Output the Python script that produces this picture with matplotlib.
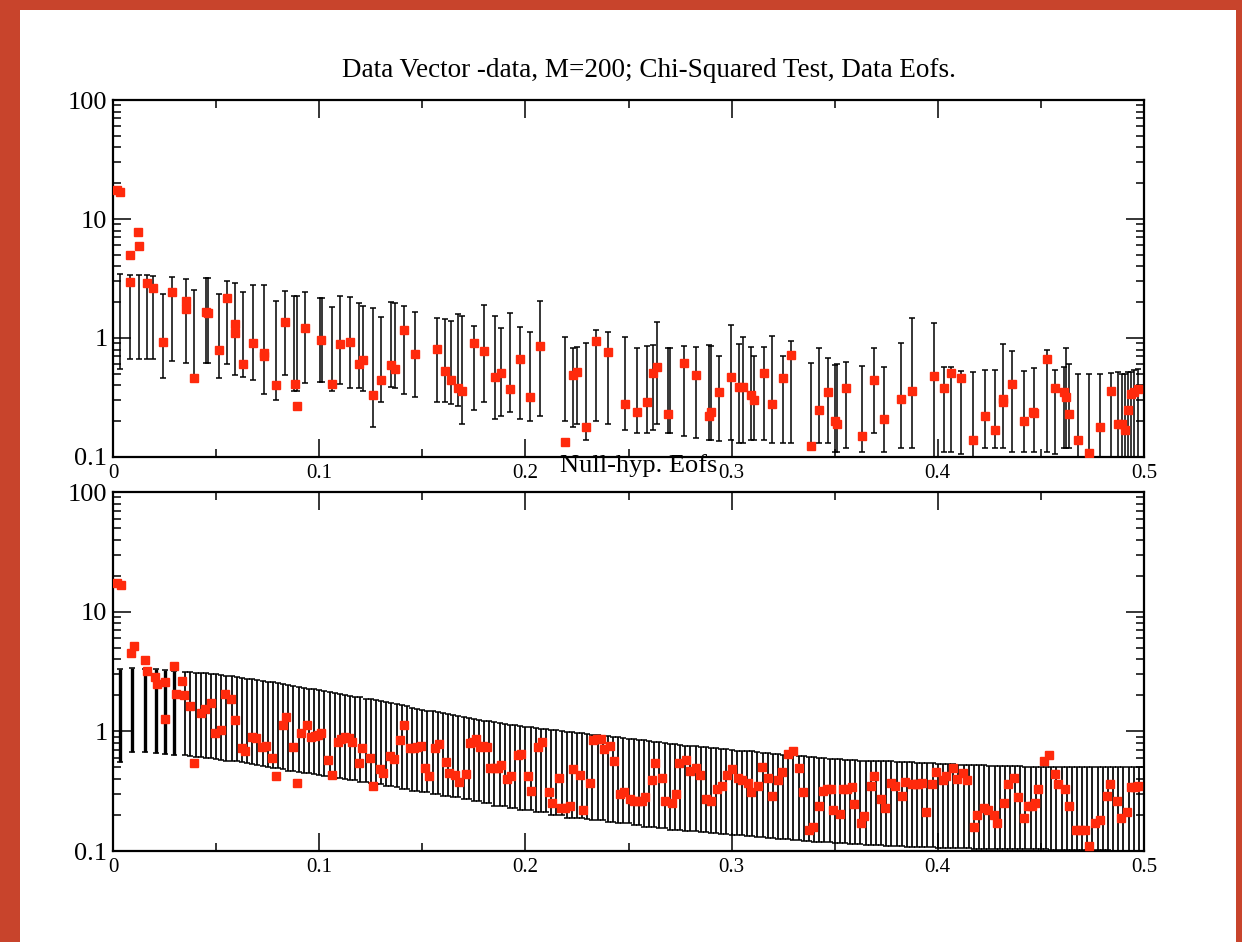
import numpy as np
import matplotlib
matplotlib.use("Agg")
import matplotlib.pyplot as plt
from matplotlib.ticker import FixedLocator, FixedFormatter, MultipleLocator, LogLocator, NullFormatter
from matplotlib.patches import Rectangle

# ---- top panel: data EOFs (points + per-point error bars) ----
data_x = [0.0021, 0.0034, 0.0082, 0.0084, 0.0123, 0.0125, 0.0165, 0.0194, 0.0243, 0.0284,
          0.0353, 0.0353, 0.0393, 0.0453, 0.0462, 0.0514, 0.0553, 0.0590, 0.0590, 0.0630,
          0.0680, 0.0730, 0.0730, 0.0792, 0.0833, 0.0881, 0.0891, 0.0933, 0.1007, 0.1062,
          0.1102, 0.1151, 0.1193, 0.1212, 0.1261, 0.1301, 0.1350, 0.1369, 0.1410, 0.1466,
          0.1571, 0.1612, 0.1641, 0.1673, 0.1693, 0.1751, 0.1799, 0.1851, 0.1880, 0.1924,
          0.1972, 0.2021, 0.2072, 0.2190, 0.2231, 0.2250, 0.2292, 0.2341, 0.2400, 0.2485,
          0.2540, 0.2591, 0.2621, 0.2640, 0.2693, 0.2769, 0.2826, 0.2891, 0.2900, 0.2939,
          0.2997, 0.3038, 0.3057, 0.3094, 0.3109, 0.3157, 0.3195, 0.3251, 0.3287, 0.3385,
          0.3426, 0.3469, 0.3502, 0.3513, 0.3553, 0.3634, 0.3692, 0.3739, 0.3822, 0.3873,
          0.3983, 0.4032, 0.4062, 0.4111, 0.4169, 0.4229, 0.4278, 0.4318, 0.4318, 0.4358,
          0.4420, 0.4463, 0.4468, 0.4528, 0.4569, 0.4610, 0.4621, 0.4637, 0.4681, 0.4735,
          0.4787, 0.4838, 0.4876, 0.4892, 0.4908, 0.4924, 0.4937, 0.4952, 0.4970]
data_y = [17.4, 16.8, 5.0, 2.97, 7.8, 5.94, 2.9, 2.63, 0.92, 2.45,
          2.03, 1.74, 0.46, 1.64, 1.61, 0.80, 2.15, 1.30, 1.10, 0.60,
          0.91, 0.75, 0.70, 0.40, 1.36, 0.41, 0.27, 1.21, 0.97, 0.41,
          0.89, 0.93, 0.60, 0.65, 0.33, 0.44, 0.59, 0.55, 1.17, 0.74,
          0.81, 0.53, 0.44, 0.38, 0.36, 0.91, 0.78, 0.47, 0.51, 0.37,
          0.67, 0.32, 0.86, 0.134, 0.49, 0.52, 0.18, 0.94, 0.76, 0.28,
          0.24, 0.29, 0.51, 0.57, 0.23, 0.62, 0.49, 0.22, 0.24, 0.35,
          0.47, 0.39, 0.39, 0.33, 0.30, 0.51, 0.28, 0.46, 0.72, 0.124,
          0.25, 0.35, 0.20, 0.19, 0.38, 0.15, 0.44, 0.21, 0.31, 0.36,
          0.48, 0.38, 0.51, 0.46, 0.14, 0.22, 0.17, 0.31, 0.29, 0.41,
          0.20, 0.24, 0.235, 0.67, 0.38, 0.35, 0.32, 0.23, 0.139, 0.109,
          0.18, 0.36, 0.19, 0.19, 0.17, 0.25, 0.34, 0.35, 0.37]

data_bar_x = [0.0032, 0.0084, 0.0124, 0.0165, 0.0194, 0.0243, 0.0284, 0.0353, 0.0393, 0.0453,
              0.0462, 0.0514, 0.0553, 0.0590, 0.0630, 0.0680, 0.0730, 0.0792, 0.0833, 0.0878,
              0.0891, 0.0933, 0.1002, 0.1012, 0.1062, 0.1102, 0.1151, 0.1193, 0.1212, 0.1261,
              0.1301, 0.1350, 0.1369, 0.1410, 0.1466, 0.1571, 0.1612, 0.1641, 0.1673, 0.1693,
              0.1751, 0.1799, 0.1851, 0.1880, 0.1924, 0.1972, 0.2021, 0.2072, 0.2190, 0.2231,
              0.2250, 0.2292, 0.2341, 0.2400, 0.2485, 0.2540, 0.2591, 0.2621, 0.2640, 0.2693,
              0.2700, 0.2769, 0.2826, 0.2891, 0.2900, 0.2939, 0.2997, 0.3038, 0.3057, 0.3094,
              0.3109, 0.3157, 0.3195, 0.3251, 0.3287, 0.3385, 0.3426, 0.3469, 0.3502, 0.3513,
              0.3553, 0.3634, 0.3692, 0.3739, 0.3822, 0.3873, 0.3983, 0.4032, 0.4062, 0.4111,
              0.4169, 0.4229, 0.4278, 0.4318, 0.4358, 0.4420, 0.4465, 0.4528, 0.4569, 0.4610,
              0.4621, 0.4637, 0.4681, 0.4735, 0.4787, 0.4838, 0.4876, 0.4892, 0.4908, 0.4924,
              0.4937, 0.4952, 0.4970]
data_bar_hi = [3.44, 3.38, 3.38, 3.38, 3.33, 2.34, 3.23, 3.13, 2.54, 3.17,
               3.17, 2.34, 3.03, 2.90, 2.42, 2.80, 2.80, 2.06, 2.50, 2.27,
               2.27, 2.45, 2.15, 2.15, 1.81, 2.24, 2.20, 1.96, 1.87, 1.78,
               1.49, 1.99, 1.97, 1.85, 1.64, 1.47, 1.45, 1.40, 1.59, 1.54,
               1.26, 1.90, 1.52, 1.21, 1.61, 1.23, 1.12, 2.06, 1.02, 0.83,
               0.84, 0.91, 1.16, 1.12, 1.02, 0.82, 0.85, 0.87, 1.36, 0.82,
               0.82, 0.85, 0.84, 0.88, 0.85, 0.71, 1.29, 0.89, 1.02, 0.84,
               0.71, 0.84, 1.04, 0.71, 0.95, 0.62, 0.82, 0.68, 0.59, 0.60,
               0.63, 0.58, 0.82, 0.57, 0.91, 1.47, 1.34, 0.57, 0.57, 0.53,
               0.52, 0.54, 0.54, 0.89, 0.77, 0.53, 0.56, 0.79, 0.54, 0.57,
               0.82, 0.60, 0.50, 0.50, 0.50, 0.51, 0.52, 0.50, 0.50, 0.52,
               0.52, 0.54, 0.55]
data_bar_lo = [0.55, 0.67, 0.66, 0.66, 0.66, 0.46, 0.64, 0.62, 0.48, 0.62,
               0.62, 0.46, 0.60, 0.49, 0.47, 0.44, 0.34, 0.30, 0.49, 0.36,
               0.36, 0.42, 0.43, 0.43, 0.36, 0.41, 0.38, 0.38, 0.36, 0.18,
               0.29, 0.39, 0.38, 0.34, 0.32, 0.29, 0.29, 0.28, 0.27, 0.19,
               0.25, 0.29, 0.21, 0.22, 0.24, 0.21, 0.20, 0.22, 0.20, 0.18,
               0.19, 0.14, 0.20, 0.19, 0.17, 0.16, 0.16, 0.17, 0.19, 0.16,
               0.16, 0.15, 0.145, 0.14, 0.14, 0.135, 0.14, 0.13, 0.13, 0.14,
               0.14, 0.14, 0.13, 0.13, 0.13, 0.12, 0.13, 0.13, 0.11, 0.11,
               0.12, 0.11, 0.16, 0.11, 0.12, 0.12, 0.10, 0.11, 0.11, 0.105,
               0.10, 0.12, 0.12, 0.12, 0.11, 0.11, 0.11, 0.11, 0.105, 0.12,
               0.12, 0.12, 0.10, 0.10, 0.10, 0.10, 0.10, 0.10, 0.10, 0.10,
               0.10, 0.10, 0.10]

# ---- bottom panel: null-hypothesis EOFs ----
null_x = [0.0020, 0.0037, 0.0089, 0.0102, 0.0154, 0.0163, 0.0202, 0.0213, 0.0254, 0.0254,
          0.0294, 0.0304, 0.0335, 0.0344, 0.0375, 0.0393, 0.0425, 0.0445, 0.0475, 0.0493,
          0.0522, 0.0542, 0.0574, 0.0590, 0.0627, 0.0642, 0.0676, 0.0692, 0.0723, 0.0740,
          0.0773, 0.0792, 0.0823, 0.0841, 0.0875, 0.0892, 0.0910, 0.0942, 0.0959, 0.0978,
          0.0994, 0.1010, 0.1043, 0.1060, 0.1091, 0.1107, 0.1127, 0.1143, 0.1161, 0.1193,
          0.1209, 0.1245, 0.1261, 0.1293, 0.1310, 0.1342, 0.1362, 0.1394, 0.1410, 0.1442,
          0.1460, 0.1476, 0.1495, 0.1511, 0.1530, 0.1563, 0.1579, 0.1613, 0.1628, 0.1660,
          0.1678, 0.1710, 0.1729, 0.1746, 0.1762, 0.1778, 0.1794, 0.1815, 0.1830, 0.1851,
          0.1867, 0.1880, 0.1912, 0.1932, 0.1964, 0.1980, 0.2013, 0.2029, 0.2061, 0.2081,
          0.2113, 0.2129, 0.2161, 0.2174, 0.2194, 0.2215, 0.2231, 0.2263, 0.2280, 0.2312,
          0.2328, 0.2347, 0.2365, 0.2381, 0.2409, 0.2430, 0.2457, 0.2478, 0.2507, 0.2528,
          0.2548, 0.2564, 0.2580, 0.2612, 0.2629, 0.2661, 0.2677, 0.2709, 0.2729, 0.2745,
          0.2778, 0.2798, 0.2826, 0.2847, 0.2876, 0.2900, 0.2928, 0.2952, 0.2976, 0.3000,
          0.3033, 0.3052, 0.3078, 0.3094, 0.3127, 0.3146, 0.3178, 0.3194, 0.3227, 0.3246,
          0.3275, 0.3296, 0.3327, 0.3348, 0.3377, 0.3396, 0.3426, 0.3445, 0.3464, 0.3480,
          0.3493, 0.3526, 0.3542, 0.3561, 0.3582, 0.3595, 0.3626, 0.3644, 0.3676, 0.3692,
          0.3724, 0.3744, 0.3773, 0.3792, 0.3825, 0.3841, 0.3873, 0.3893, 0.3906, 0.3925,
          0.3943, 0.3974, 0.3991, 0.4024, 0.4040, 0.4075, 0.4091, 0.4124, 0.4140, 0.4174,
          0.4190, 0.4222, 0.4241, 0.4273, 0.4289, 0.4322, 0.4338, 0.4371, 0.4391, 0.4420,
          0.4439, 0.4459, 0.4472, 0.4488, 0.4517, 0.4540, 0.4568, 0.4585, 0.4617, 0.4636,
          0.4669, 0.4690, 0.4714, 0.4735, 0.4763, 0.4787, 0.4820, 0.4835, 0.4868, 0.4887,
          0.4916, 0.4935, 0.4956, 0.4972]
null_y = [17.5, 16.6, 4.54, 5.13, 3.92, 3.19, 2.84, 2.47, 2.58, 1.28,
          3.52, 2.06, 2.62, 2.00, 1.63, 0.54, 1.41, 1.55, 1.74, 0.97,
          1.02, 2.04, 1.87, 1.24, 0.72, 0.68, 0.90, 0.88, 0.74, 0.76,
          0.60, 0.42, 1.12, 1.32, 0.74, 0.37, 0.96, 1.14, 0.90, 0.91,
          0.94, 0.96, 0.58, 0.43, 0.81, 0.87, 0.90, 0.88, 0.82, 0.54,
          0.72, 0.60, 0.35, 0.48, 0.45, 0.62, 0.59, 0.85, 1.14, 0.72,
          0.72, 0.74, 0.75, 0.49, 0.42, 0.73, 0.79, 0.55, 0.45, 0.43,
          0.38, 0.44, 0.80, 0.82, 0.86, 0.74, 0.75, 0.74, 0.49, 0.49,
          0.49, 0.52, 0.40, 0.42, 0.63, 0.65, 0.42, 0.32, 0.74, 0.82,
          0.31, 0.25, 0.41, 0.23, 0.23, 0.24, 0.48, 0.43, 0.22, 0.37,
          0.84, 0.86, 0.86, 0.71, 0.75, 0.57, 0.30, 0.31, 0.27, 0.26,
          0.26, 0.26, 0.28, 0.39, 0.54, 0.41, 0.26, 0.25, 0.30, 0.54,
          0.58, 0.47, 0.49, 0.43, 0.27, 0.26, 0.33, 0.35, 0.43, 0.48,
          0.41, 0.39, 0.37, 0.31, 0.35, 0.50, 0.41, 0.29, 0.39, 0.46,
          0.65, 0.68, 0.49, 0.31, 0.15, 0.16, 0.24, 0.32, 0.33, 0.33,
          0.22, 0.205, 0.33, 0.33, 0.34, 0.245, 0.17, 0.196, 0.35, 0.42,
          0.27, 0.23, 0.37, 0.35, 0.29, 0.38, 0.36, 0.36, 0.365, 0.37,
          0.21, 0.36, 0.46, 0.39, 0.42, 0.49, 0.40, 0.45, 0.39, 0.16,
          0.20, 0.23, 0.22, 0.20, 0.17, 0.25, 0.36, 0.41, 0.28, 0.19,
          0.24, 0.24, 0.25, 0.33, 0.56, 0.64, 0.44, 0.36, 0.33, 0.24,
          0.15, 0.15, 0.15, 0.11, 0.17, 0.18, 0.29, 0.36, 0.26, 0.19,
          0.21, 0.34, 0.34, 0.35]

# first, irregular null-hypothesis bars near zero frequency
null_early_x = [0.0032, 0.0094, 0.0157, 0.0210, 0.0254, 0.0294]
null_early_hi = [3.30, 3.38, 3.35, 3.30, 3.25, 3.20]
null_early_lo = [0.55, 0.67, 0.67, 0.66, 0.65, 0.64]

# regular bars on the frequency grid 0.035 ... 0.5 (step 0.0025)
null_bar_x = np.round(np.arange(14, 201) * 0.0025, 4)
null_bar_hi = [3.15, 3.13, 3.10, 3.08, 3.05, 3.03,
               3.00, 2.96, 2.92, 2.88, 2.84, 2.80, 2.76, 2.72, 2.68, 2.64,
               2.60, 2.56, 2.52, 2.48, 2.44, 2.40, 2.36, 2.32, 2.28, 2.24,
               2.20, 2.16, 2.13, 2.09, 2.06, 2.02, 1.99, 1.95, 1.92, 1.88,
               1.85, 1.82, 1.78, 1.75, 1.72, 1.68, 1.65, 1.62, 1.58, 1.55,
               1.52, 1.49, 1.47, 1.44, 1.42, 1.39, 1.37, 1.34, 1.32, 1.29,
               1.27, 1.25, 1.23, 1.21, 1.20, 1.18, 1.16, 1.14, 1.13, 1.11,
               1.09, 1.08, 1.07, 1.05, 1.04, 1.03, 1.02, 1.00, 0.99, 0.98,
               0.97, 0.96, 0.95, 0.94, 0.93, 0.92, 0.91, 0.90, 0.89, 0.88,
               0.87, 0.86, 0.85, 0.84, 0.83, 0.82, 0.81, 0.80, 0.79, 0.78,
               0.77, 0.76, 0.76, 0.75, 0.74, 0.74, 0.73, 0.72, 0.71, 0.71,
               0.70, 0.69, 0.69, 0.68, 0.68, 0.67, 0.66, 0.66, 0.65, 0.65,
               0.64, 0.63, 0.63, 0.62, 0.62, 0.61, 0.61, 0.60, 0.60, 0.59,
               0.59, 0.59, 0.58, 0.58, 0.58, 0.57, 0.57, 0.57, 0.56, 0.56,
               0.56, 0.56, 0.55, 0.55, 0.55, 0.55, 0.54, 0.54, 0.54, 0.54,
               0.535, 0.53, 0.53, 0.53, 0.525, 0.525, 0.52, 0.52, 0.52, 0.52,
               0.515, 0.515, 0.51, 0.51, 0.51, 0.51, 0.51, 0.505, 0.505, 0.505,
               0.505, 0.505, 0.50, 0.50, 0.50, 0.50, 0.50, 0.50, 0.50, 0.50,
               0.50, 0.50, 0.50, 0.50, 0.50, 0.50, 0.50, 0.50, 0.50, 0.50,
               0.50]
null_bar_lo = [0.63, 0.62, 0.61, 0.61, 0.60, 0.60,
               0.59, 0.58, 0.57, 0.57, 0.56, 0.55, 0.54, 0.53, 0.52, 0.51,
               0.50, 0.49, 0.49, 0.48, 0.47, 0.47, 0.46, 0.45, 0.45, 0.44,
               0.43, 0.42, 0.42, 0.41, 0.41, 0.40, 0.39, 0.39, 0.38, 0.38,
               0.37, 0.36, 0.36, 0.35, 0.35, 0.34, 0.33, 0.33, 0.32, 0.32,
               0.31, 0.31, 0.30, 0.30, 0.29, 0.29, 0.28, 0.28, 0.27, 0.27,
               0.26, 0.26, 0.25, 0.25, 0.24, 0.24, 0.24, 0.23, 0.23, 0.22,
               0.22, 0.22, 0.21, 0.21, 0.21, 0.20, 0.20, 0.20, 0.19, 0.19,
               0.19, 0.19, 0.185, 0.18, 0.18, 0.18, 0.175, 0.175, 0.17, 0.17,
               0.17, 0.165, 0.165, 0.16, 0.16, 0.16, 0.155, 0.155, 0.15, 0.15,
               0.15, 0.148, 0.147, 0.146, 0.145, 0.143, 0.142, 0.141, 0.140, 0.138,
               0.137, 0.136, 0.135, 0.134, 0.133, 0.131, 0.130, 0.129, 0.128, 0.127,
               0.126, 0.125, 0.124, 0.123, 0.122, 0.121, 0.120, 0.119, 0.118, 0.118,
               0.117, 0.116, 0.116, 0.115, 0.114, 0.114, 0.113, 0.113, 0.112, 0.112,
               0.111, 0.111, 0.110, 0.110, 0.109, 0.109, 0.108, 0.108, 0.107, 0.107,
               0.106, 0.106, 0.106, 0.105, 0.105, 0.105, 0.105, 0.104, 0.104, 0.104,
               0.104, 0.104, 0.104, 0.104, 0.103, 0.103, 0.103, 0.103, 0.103, 0.103,
               0.103, 0.103, 0.102, 0.102, 0.102, 0.102, 0.102, 0.101, 0.101, 0.101,
               0.101, 0.101, 0.101, 0.101, 0.100, 0.100, 0.100, 0.100, 0.100, 0.100,
               0.100]

x_ticks = [0, 0.1, 0.2, 0.3, 0.4, 0.5]
x_labels = ["0", "0.1", "0.2", "0.3", "0.4", "0.5"]
y_ticks = [0.1, 1, 10, 100]
y_labels = ["0.1", "1", "10", "100"]

RED = "#ff2a0c"
plt.rcParams["font.family"] = ["Liberation Serif", "DejaVu Serif"]

fig = plt.figure(figsize=(12.42, 9.42), dpi=100)
fig.patch.set_facecolor("#c8442c")
fig.add_artist(Rectangle((20 / 1242, 0), 1216 / 1242, 932 / 942,
                         transform=fig.transFigure, facecolor="white",
                         edgecolor="none", zorder=-10))

ax1 = fig.add_axes([0.091, 0.5149, 0.8301, 0.3789])
ax2 = fig.add_axes([0.091, 0.0966, 0.8301, 0.3811])


def draw_bars(ax, x, lo, hi, lw=1.0, cap=5):
    ax.vlines(x, lo, hi, colors="black", linewidth=lw, zorder=2)
    ax.plot(x, hi, linestyle="none", marker="_", ms=cap, mew=1.1, color="black", zorder=2)
    ax.plot(x, lo, linestyle="none", marker="_", ms=cap, mew=1.1, color="black", zorder=2)


draw_bars(ax1, data_bar_x, data_bar_lo, data_bar_hi, lw=1.1)
ax1.plot(data_x, data_y, linestyle="none", marker="s", ms=5.8, color=RED, mec=RED, zorder=3)

draw_bars(ax2, null_early_x, null_early_lo, null_early_hi, lw=2.4)
draw_bars(ax2, null_bar_x, null_bar_lo, null_bar_hi, lw=1.25, cap=4)
ax2.plot(null_x, null_y, linestyle="none", marker="s", ms=5.8, color=RED, mec=RED, zorder=3)

for ax in (ax1, ax2):
    ax.set_yscale("log")
    ax.set_xlim(0, 0.5)
    ax.set_ylim(0.1, 100)
    ax.xaxis.set_major_locator(FixedLocator(x_ticks))
    ax.xaxis.set_major_formatter(FixedFormatter(x_labels))
    ax.xaxis.set_minor_locator(MultipleLocator(0.05))
    ax.yaxis.set_major_locator(FixedLocator(y_ticks))
    ax.yaxis.set_major_formatter(FixedFormatter(y_labels))
    ax.yaxis.set_minor_locator(LogLocator(base=10, subs=np.arange(2, 10)))
    ax.yaxis.set_minor_formatter(NullFormatter())
    ax.tick_params(which="both", direction="in", top=True, right=True, width=1.1)
    ax.tick_params(which="major", length=13)
    ax.tick_params(which="minor", length=6)
    ax.tick_params(axis="y", labelsize=19, pad=4)
    ax.tick_params(axis="x", labelsize=15, pad=5)
    for s in ax.spines.values():
        s.set_linewidth(1.6)

fig.text(649 / 1242, 1 - 77 / 942, "Data Vector -data, M=200; Chi-Squared Test, Data Eofs.",
         ha="center", va="baseline", fontsize=19.5)
ax2.text(0.51, 1.055, "Null-hyp. Eofs", transform=ax2.transAxes,
         ha="center", va="baseline", fontsize=19)

fig.savefig("out.png", dpi=100, facecolor=fig.get_facecolor())
